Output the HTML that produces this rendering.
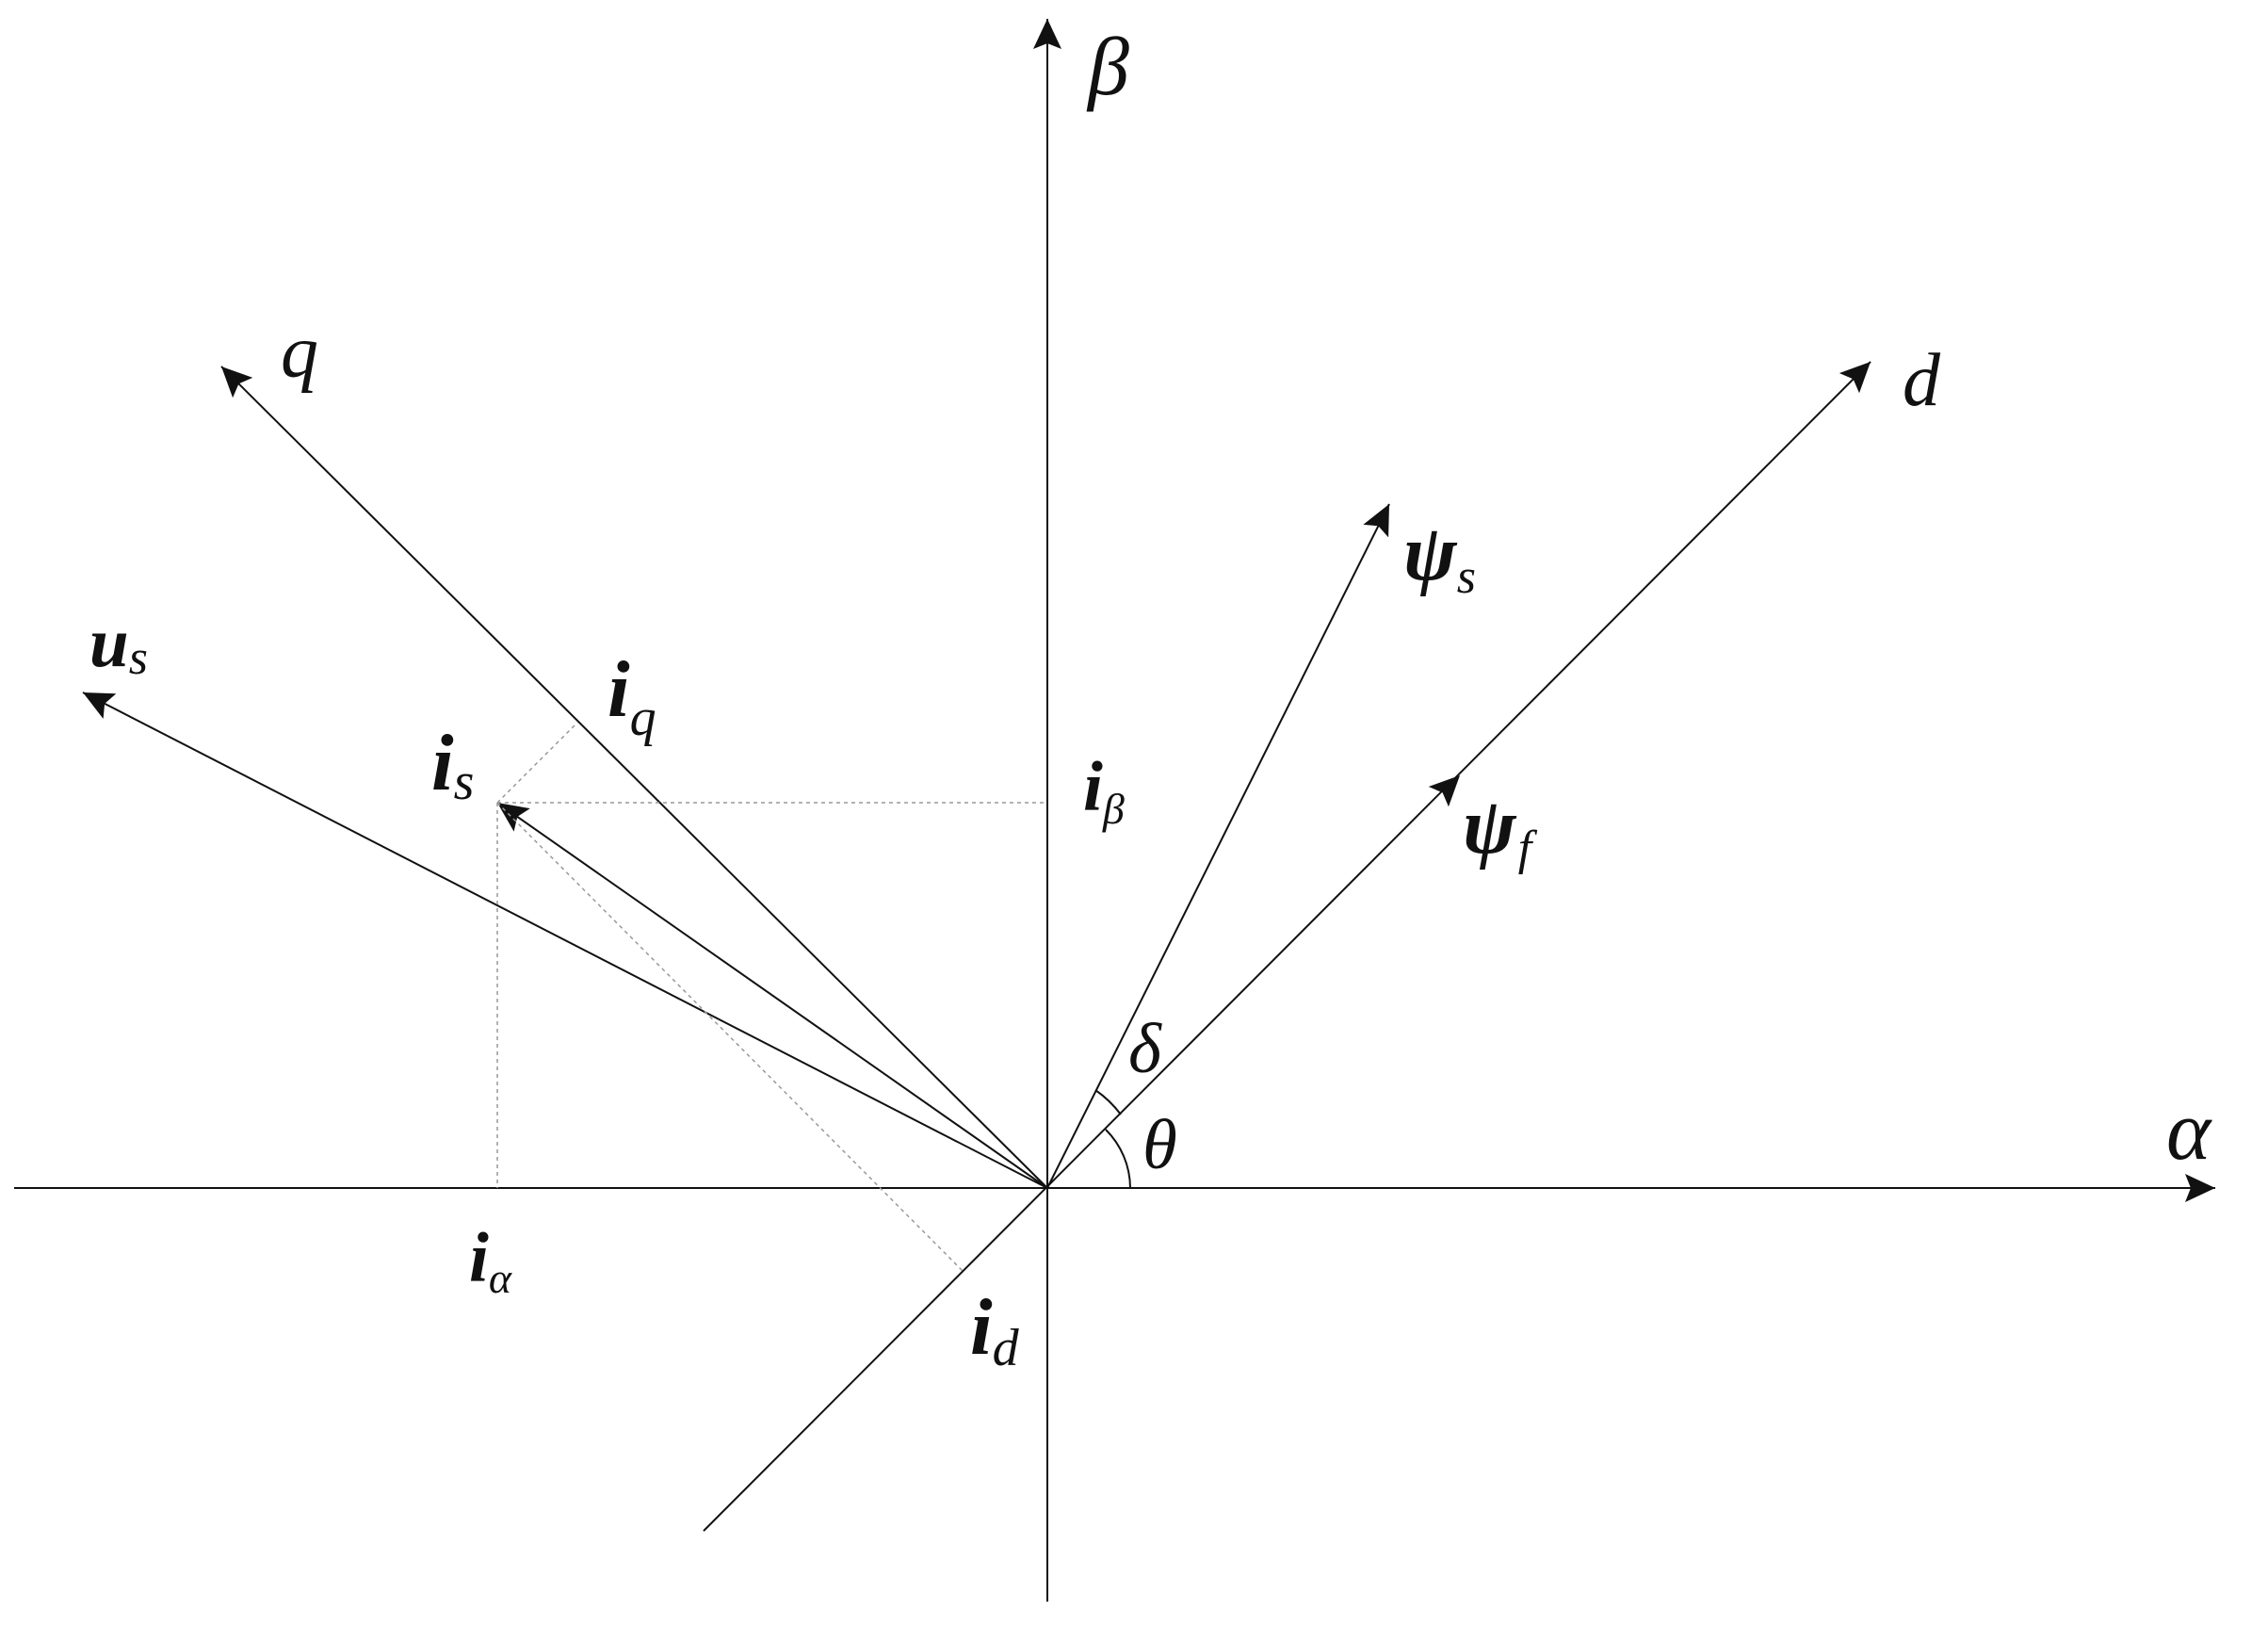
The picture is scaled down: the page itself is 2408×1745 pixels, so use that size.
<!DOCTYPE html>
<html><head><meta charset="utf-8"><style>html,body{margin:0;padding:0;background:#fff}svg{display:block}</style></head>
<body>
<svg width="2408" height="1745" viewBox="0 0 2408 1745" xmlns="http://www.w3.org/2000/svg">
<defs>
<marker id="a" markerUnits="userSpaceOnUse" markerWidth="40" markerHeight="32" refX="32" refY="15" orient="auto">
<path d="M0,0 L32,15 L0,30 L6,15 Z" fill="#111"/>
</marker>
</defs>
<g stroke="#111" stroke-width="2" fill="none">
<line x1="15" y1="1261" x2="2352" y2="1261" marker-end="url(#a)"/>
<line x1="1112" y1="1700" x2="1112" y2="20" marker-end="url(#a)"/>
<line x1="747" y1="1625" x2="1986" y2="384" marker-end="url(#a)"/>
<line x1="1112" y1="1261" x2="235" y2="389" marker-end="url(#a)"/>
<line x1="1112" y1="1261" x2="88" y2="735" marker-end="url(#a)"/>
<line x1="1112" y1="1261" x2="528" y2="852" marker-end="url(#a)"/>
<line x1="1112" y1="1261" x2="1475" y2="535" marker-end="url(#a)"/>
<path d="M1200,1261 A88,88 0 0 0 1174,1199"/>
<path d="M1190,1183 A116,116 0 0 0 1163,1157"/>
</g>
<g transform="translate(1550,823) rotate(-45)"><path d="M-32,-15 L0,0 L-32,15 L-26,0 Z" fill="#111"/></g>
<g stroke="#999" stroke-width="1.5" fill="none" stroke-dasharray="4,4">
<line x1="528" y1="852" x2="1112" y2="852"/>
<line x1="528" y1="852" x2="528" y2="1261"/>
<line x1="528" y1="852" x2="613" y2="767"/>
<line x1="528" y1="852" x2="1022" y2="1349"/>
</g>
<g font-family="'Liberation Serif', 'DejaVu Serif', serif" font-style="italic" fill="#111">
<text x="1155" y="100" font-size="88">β</text>
<text x="2300" y="1230" font-size="90">α</text>
<text x="298" y="400" font-size="80">q</text>
<text x="2020" y="430" font-size="80">d</text>
<text x="1490" y="615" font-size="85" font-weight="bold">ψ<tspan font-size="52" font-weight="normal" dy="14">s</tspan></text>
<text x="1553" y="905" font-size="85" font-weight="bold">ψ<tspan font-size="52" font-weight="normal" dy="12" dx="2">f</tspan></text>
<text x="95" y="707" font-size="75" font-weight="bold">u<tspan font-size="52" font-weight="normal" dy="8">s</tspan></text>
<text x="645" y="760" font-size="85" font-weight="bold">i<tspan font-size="56" font-weight="normal" dy="20">q</tspan></text>
<text x="458" y="838" font-size="85" font-weight="bold">i<tspan font-size="56" font-weight="normal" dy="10">s</tspan></text>
<text x="1150" y="860" font-size="75" font-weight="bold">i<tspan font-size="46" font-weight="normal" dy="14">β</tspan></text>
<text x="1198" y="1138" font-size="75">δ</text>
<text x="1213" y="1240" font-size="75">θ</text>
<text x="498" y="1360" font-size="75" font-weight="bold">i<tspan font-size="46" font-weight="normal" dy="12">α</tspan></text>
<text x="1030" y="1437" font-size="85" font-weight="bold">i<tspan font-size="56" font-weight="normal" dy="12">d</tspan></text>
</g>
</svg>
</body></html>
